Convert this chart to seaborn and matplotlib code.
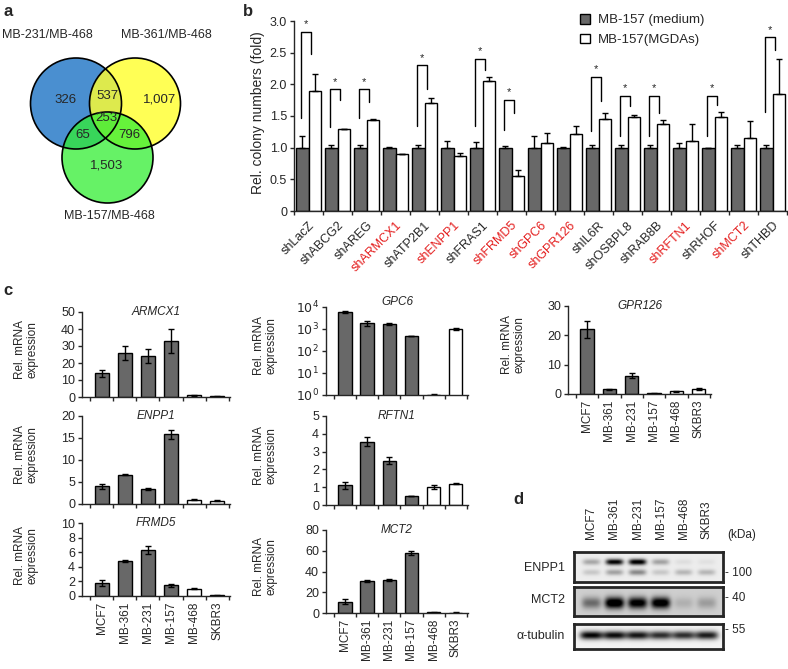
import numpy as np
import pandas as pd
import seaborn as sns
import matplotlib.pyplot as plt
from matplotlib.patches import Circle, Patch
from matplotlib.transforms import blended_transform_factory

# ---------------- data ----------------
# panel a (Venn)
venn_names = ['MB-231/MB-468', 'MB-361/MB-468', 'MB-157/MB-468']
venn_numbers = ['326', '537', '1,007', '253', '65', '796', '1,503']

# panel b
genes_b = ['shLacZ', 'shABCG2', 'shAREG', 'shARMCX1', 'shATP2B1', 'shENPP1', 'shFRAS1',
           'shFRMD5', 'shGPC6', 'shGPR126', 'shIL6R', 'shOSBPL8', 'shRAB8B', 'shRFTN1',
           'shRHOF', 'shMCT2', 'shTHBD']
red_genes = ['shARMCX1', 'shENPP1', 'shFRMD5', 'shGPC6', 'shGPR126', 'shRFTN1', 'shMCT2']
medium = [1.0, 1.0, 1.0, 1.0, 1.0, 1.0, 1.0, 1.0, 1.0, 1.0, 1.0, 1.0, 1.0, 1.0, 1.0, 1.0, 1.0]
medium_err = [0.18, 0.05, 0.04, 0.01, 0.04, 0.11, 0.09, 0.03, 0.18, 0.01, 0.05, 0.04, 0.05, 0.07, 0.0, 0.05, 0.05]
mgdas = [1.90, 1.30, 1.44, 0.90, 1.71, 0.87, 2.06, 0.55, 1.07, 1.21, 1.45, 1.48, 1.38, 1.10, 1.48, 1.15, 1.84]
mgdas_err = [0.27, 0.0, 0.02, 0.0, 0.07, 0.04, 0.05, 0.10, 0.16, 0.13, 0.09, 0.04, 0.06, 0.27, 0.09, 0.27, 0.56]
sig_idx = [0, 1, 2, 4, 6, 7, 10, 11, 12, 14, 16]
sig_left = [1.47, 1.32, 1.47, 1.34, 1.34, 1.28, 1.27, 1.18, 1.18, 1.18, 1.56]
sig_top = [2.83, 1.92, 1.92, 2.30, 2.40, 1.76, 2.12, 1.82, 1.82, 1.82, 2.74]
sig_right = [2.48, 1.76, 1.72, 1.92, 2.22, 1.54, 1.73, 1.66, 1.55, 1.68, 2.54]

# panel c
cell_lines = ['MCF7', 'MB-361', 'MB-231', 'MB-157', 'MB-468', 'SKBR3']
armcx1 = [14, 26, 24, 33, 1.0, 0.3]
armcx1_err = [2, 4, 4, 7, 0.3, 0.1]
enpp1 = [4.0, 6.7, 3.4, 15.8, 1.0, 0.7]
enpp1_err = [0.5, 0.2, 0.2, 1.0, 0.1, 0.1]
frmd5 = [1.75, 4.8, 6.3, 1.45, 1.0, 0.08]
frmd5_err = [0.4, 0.15, 0.6, 0.25, 0.1, 0.02]
gpc6 = [5800, 1800, 1750, 480, 1.0, 1000]
gpc6_err = [700, 400, 150, 20, 0.15, 60]
rftn1 = [1.1, 3.55, 2.5, 0.5, 1.0, 1.2]
rftn1_err = [0.18, 0.25, 0.2, 0.02, 0.12, 0.04]
mct2 = [11, 31, 32, 58, 0.5, 0.4]
mct2_err = [2.5, 1.0, 1.0, 2.0, 0.2, 0.1]
gpr126 = [22, 1.6, 6.3, 0.2, 0.9, 1.7]
gpr126_err = [3, 0.1, 0.9, 0.05, 0.1, 0.5]

# panel d (band intensities, 0 = none, 1 = saturated)
blot_names = ['ENPP1', 'MCT2', 'α-tubulin']
blot_kda = ['- 100', '- 40', '- 55']
enpp1_upper = [0.28, 0.95, 1.0, 0.30, 0.06, 0.05]
enpp1_lower = [0.15, 0.30, 0.40, 0.15, 0.22, 0.22]
mct2_band = [0.40, 1.0, 0.90, 0.95, 0.12, 0.20]
tubulin_band = [0.95, 0.92, 0.88, 0.78, 0.78, 0.85]

GRAY = '#686868'
RED = '#e41e1e'

# ---------------- style ----------------
sns.set_style('ticks')
plt.rcParams['font.family'] = ['Liberation Sans', 'DejaVu Sans']
plt.rcParams['axes.linewidth'] = 1.0
plt.rcParams['xtick.major.width'] = 1.0
plt.rcParams['ytick.major.width'] = 1.0
plt.rcParams['xtick.minor.width'] = 1.0

W, H = 788, 669
fig = plt.figure(figsize=(W / 100, H / 100), dpi=100)


def px_axes(x0, y0, x1, y1):
    return fig.add_axes([x0 / W, 1 - y1 / H, (x1 - x0) / W, (y1 - y0) / H])


def ftext(x, y, s, **kw):
    fig.text(x / W, 1 - y / H, s, **kw)


# panel letters
for letter, (lx, ly) in zip('abcd', [(3, 12), (243, 12), (3, 290), (513, 500)]):
    ftext(lx, ly, letter, fontsize=12, fontweight='bold', va='center')

# ---------------- a: Venn ----------------
ax_a = px_axes(0, 0, 240, 235)
ax_a.set_xlim(0, 240)
ax_a.set_ylim(235, 0)
ax_a.axis('off')
centers = [(76, 103.5), (135, 103.5), (107.5, 157.5)]
fills = [('#4a8fd0', 1.0), ('#ffff30', 0.82), ('#33ee33', 0.75)]
for (cx, cy), (col, al) in zip(centers, fills):
    ax_a.add_patch(Circle((cx, cy), 45.5, facecolor=col, alpha=al, edgecolor='none'))
for cx, cy in centers:
    ax_a.add_patch(Circle((cx, cy), 45.5, facecolor='none', edgecolor='black', lw=1.2))
num_pos = [(66, 100), (107, 96), (160, 100), (106, 118), (83, 135), (129, 135), (107, 166)]
for (tx, ty), s in zip(num_pos, venn_numbers):
    ax_a.text(tx, ty, s, ha='center', va='center', fontsize=9.5)
for (tx, ty), s in zip([(47, 35), (166, 35), (109, 216)], venn_names):
    ax_a.text(tx, ty, s, ha='center', va='center', fontsize=9)

# ---------------- b: colony bars ----------------
ax_b = px_axes(294, 21, 787, 211)
df_b = pd.DataFrame({
    'gene': genes_b * 2,
    'cond': ['MB-157 (medium)'] * len(genes_b) + ['MB-157(MGDAs)'] * len(genes_b),
    'value': medium + mgdas,
})
sns.barplot(data=df_b, x='gene', y='value', hue='cond', palette=[GRAY, 'white'],
            edgecolor='black', linewidth=1, width=0.83, errorbar=None, legend=False, ax=ax_b)
for cont, errs in zip(ax_b.containers, [medium_err, mgdas_err]):
    xs = [b.get_x() + b.get_width() / 2 for b in cont]
    hs = [b.get_height() for b in cont]
    ax_b.errorbar(xs, hs, yerr=[np.zeros(len(errs)), errs], fmt='none', ecolor='black',
                  elinewidth=1, capsize=2.5, capthick=1)
for i, lo, top, ro in zip(sig_idx, sig_left, sig_top, sig_right):
    xl, xr = i - 0.26, i + 0.07
    ax_b.plot([xl, xl, xr, xr], [lo, top, top, ro], color='black', lw=1)
    ax_b.text((xl + xr) / 2, top + 0.12, '*', ha='center', va='center', fontsize=8)
ax_b.set_xlim(-0.5, 16.5)
ax_b.set_ylim(0, 3.0)
ax_b.set_yticks([0, 0.5, 1.0, 1.5, 2.0, 2.5, 3.0])
ax_b.set_yticklabels(['0', '0.5', '1.0', '1.5', '2.0', '2.5', '3.0'], fontsize=9)
ax_b.set_xticks(range(len(genes_b)))
ax_b.set_xticklabels(genes_b, rotation=45, ha='right', rotation_mode='anchor', fontsize=9)
for lab in ax_b.get_xticklabels():
    if lab.get_text() in red_genes:
        lab.set_color(RED)
ax_b.set_xticks(np.arange(-0.5, 16.6, 1), minor=True)
ax_b.tick_params(axis='x', which='major', length=0, pad=6)
ax_b.tick_params(axis='x', which='minor', length=3, direction='out')
ax_b.tick_params(axis='y', length=3, direction='out', pad=2)
ax_b.set_xlabel('')
ax_b.set_ylabel('Rel. colony numbers (fold)', fontsize=10)
ax_b.yaxis.set_label_coords(-0.058, 0.52)
sns.despine(ax=ax_b)
fig.legend(handles=[Patch(facecolor=GRAY, edgecolor='black', label='MB-157 (medium)'),
                    Patch(facecolor='white', edgecolor='black', label='MB-157(MGDAs)')],
           loc='upper left', bbox_to_anchor=(580 / W, 1 - 14 / H), frameon=False, fontsize=9.5,
           handlelength=0.75, handleheight=0.75, handletextpad=0.6, labelspacing=0.55,
           borderpad=0, borderaxespad=0)

# ---------------- c: mRNA bars ----------------
bar_colors = [GRAY, GRAY, GRAY, GRAY, 'white', 'white']
panels_c = [
    ('ARMCX1', armcx1, armcx1_err, (82, 312, 230, 397), [0, 10, 20, 30, 40, 50], False, -0.297),
    ('ENPP1', enpp1, enpp1_err, (82, 416, 230, 504), [0, 5, 10, 15, 20], False, -0.297),
    ('FRMD5', frmd5, frmd5_err, (82, 523, 230, 596), [0, 2, 4, 6, 8, 10], True, -0.297),
    ('GPC6', gpc6, gpc6_err, (326, 307, 468, 395), None, False, -0.345),
    ('RFTN1', rftn1, rftn1_err, (326, 416, 468, 505), [0, 1, 2, 3, 4, 5], False, -0.345),
    ('MCT2', mct2, mct2_err, (326, 530, 468, 613), [0, 20, 40, 60, 80], True, -0.345),
    ('GPR126', gpr126, gpr126_err, (568, 306, 711, 394), [0, 10, 20, 30], True, -0.30),
]
for name, vals, errs, rect, yt, show_x, lab_x in panels_c:
    ax = px_axes(*rect)
    sns.barplot(x=cell_lines, y=vals, hue=cell_lines, palette=bar_colors, edgecolor='black',
                linewidth=1, width=0.6, errorbar=None, legend=False, ax=ax)
    bars = sorted(ax.patches, key=lambda b: b.get_x())
    xs = [b.get_x() + b.get_width() / 2 for b in bars]
    ax.errorbar(xs, vals, yerr=errs, fmt='none', ecolor='black', elinewidth=1,
                capsize=2.5, capthick=1)
    if yt is None:
        ax.set_yscale('log')
        ax.set_ylim(1, 1e4)
        ax.set_yticks([1, 10, 100, 1000, 10000])
        ax.set_yticklabels(['$10^0$', '$10^1$', '$10^2$', '$10^3$', '$10^4$'])
        ax.minorticks_off()
        ty = 1.06
    else:
        ax.set_ylim(yt[0], yt[-1])
        ax.set_yticks(yt)
        ty = 1.0
    ax.set_xlim(-0.85, 5.55)
    ax.set_xticks(range(6))
    if show_x:
        ax.set_xticklabels(cell_lines, rotation=90, fontsize=8.5)
    else:
        ax.set_xticklabels([])
    ax.set_xticks(np.arange(-0.5, 5.6, 1), minor=True)
    ax.tick_params(axis='x', which='major', length=0, pad=4)
    ax.tick_params(axis='x', which='minor', length=3, direction='out')
    ax.tick_params(axis='y', which='major', length=3, direction='out', pad=2, labelsize=9)
    ax.set_xlabel('')
    ax.set_ylabel('Rel. mRNA\nexpression', fontsize=8.5, linespacing=1.05)
    ax.yaxis.set_label_coords(lab_x, 0.56)
    ax.text(0.5, ty, name, style='italic', ha='center', va='center', fontsize=8.5,
            transform=ax.transAxes)
    sns.despine(ax=ax)

# ---------------- d: western blot ----------------
blot_rects = [(574, 552, 723, 582), (574, 587, 723, 616), (574, 624, 723, 649)]
blot_bg = [0.07, 0.19, 0.05]
xg = np.linspace(-0.75, 5.7, 300)
yg = np.linspace(0, 1, 60)
X, Y = np.meshgrid(xg, yg)


def lane_profile(i, wid):
    return np.exp(-((X - i) / wid) ** 4)


band_sets = [
    [(enpp1_upper, 0.33, 0.10, 0.38), (enpp1_lower, 0.68, 0.10, 0.38)],
    [(mct2_band, 0.55, 0.20, 0.42)],
    [(tubulin_band, 0.45, 0.17, 0.50)],
]
blot_axes = []
for rect, bg, bands in zip(blot_rects, blot_bg, band_sets):
    ax = px_axes(*rect)
    img = np.full_like(X, bg)
    for inten, yc, hh, wid in bands:
        for i, v in enumerate(inten):
            img += v * lane_profile(i, wid) * np.exp(-((Y - yc) / hh) ** 2)
    ax.imshow(np.clip(img, 0, 1), cmap='gray_r', vmin=0, vmax=1, aspect='auto',
              extent=(-0.75, 5.7, 1, 0), interpolation='bilinear')
    ax.set_xticks([])
    ax.set_yticks([])
    for sp in ax.spines.values():
        sp.set_linewidth(2)
    blot_axes.append(ax)

tr = blended_transform_factory(blot_axes[0].transData, blot_axes[0].transAxes)
for i, name in enumerate(cell_lines):
    blot_axes[0].text(i, 1.42, name, rotation=90, ha='center', va='bottom', fontsize=8.5,
                      transform=tr)
ftext(727, 535, '(kDa)', fontsize=8.5, va='center')
for name, y in zip(blot_names, [568, 600, 636]):
    ftext(565, y, name, fontsize=9, ha='right', va='center')
for s, y in zip(blot_kda, [573, 598, 630]):
    ftext(725, y, s, fontsize=8.5, ha='left', va='center')

fig.savefig('out.png', dpi=100)
